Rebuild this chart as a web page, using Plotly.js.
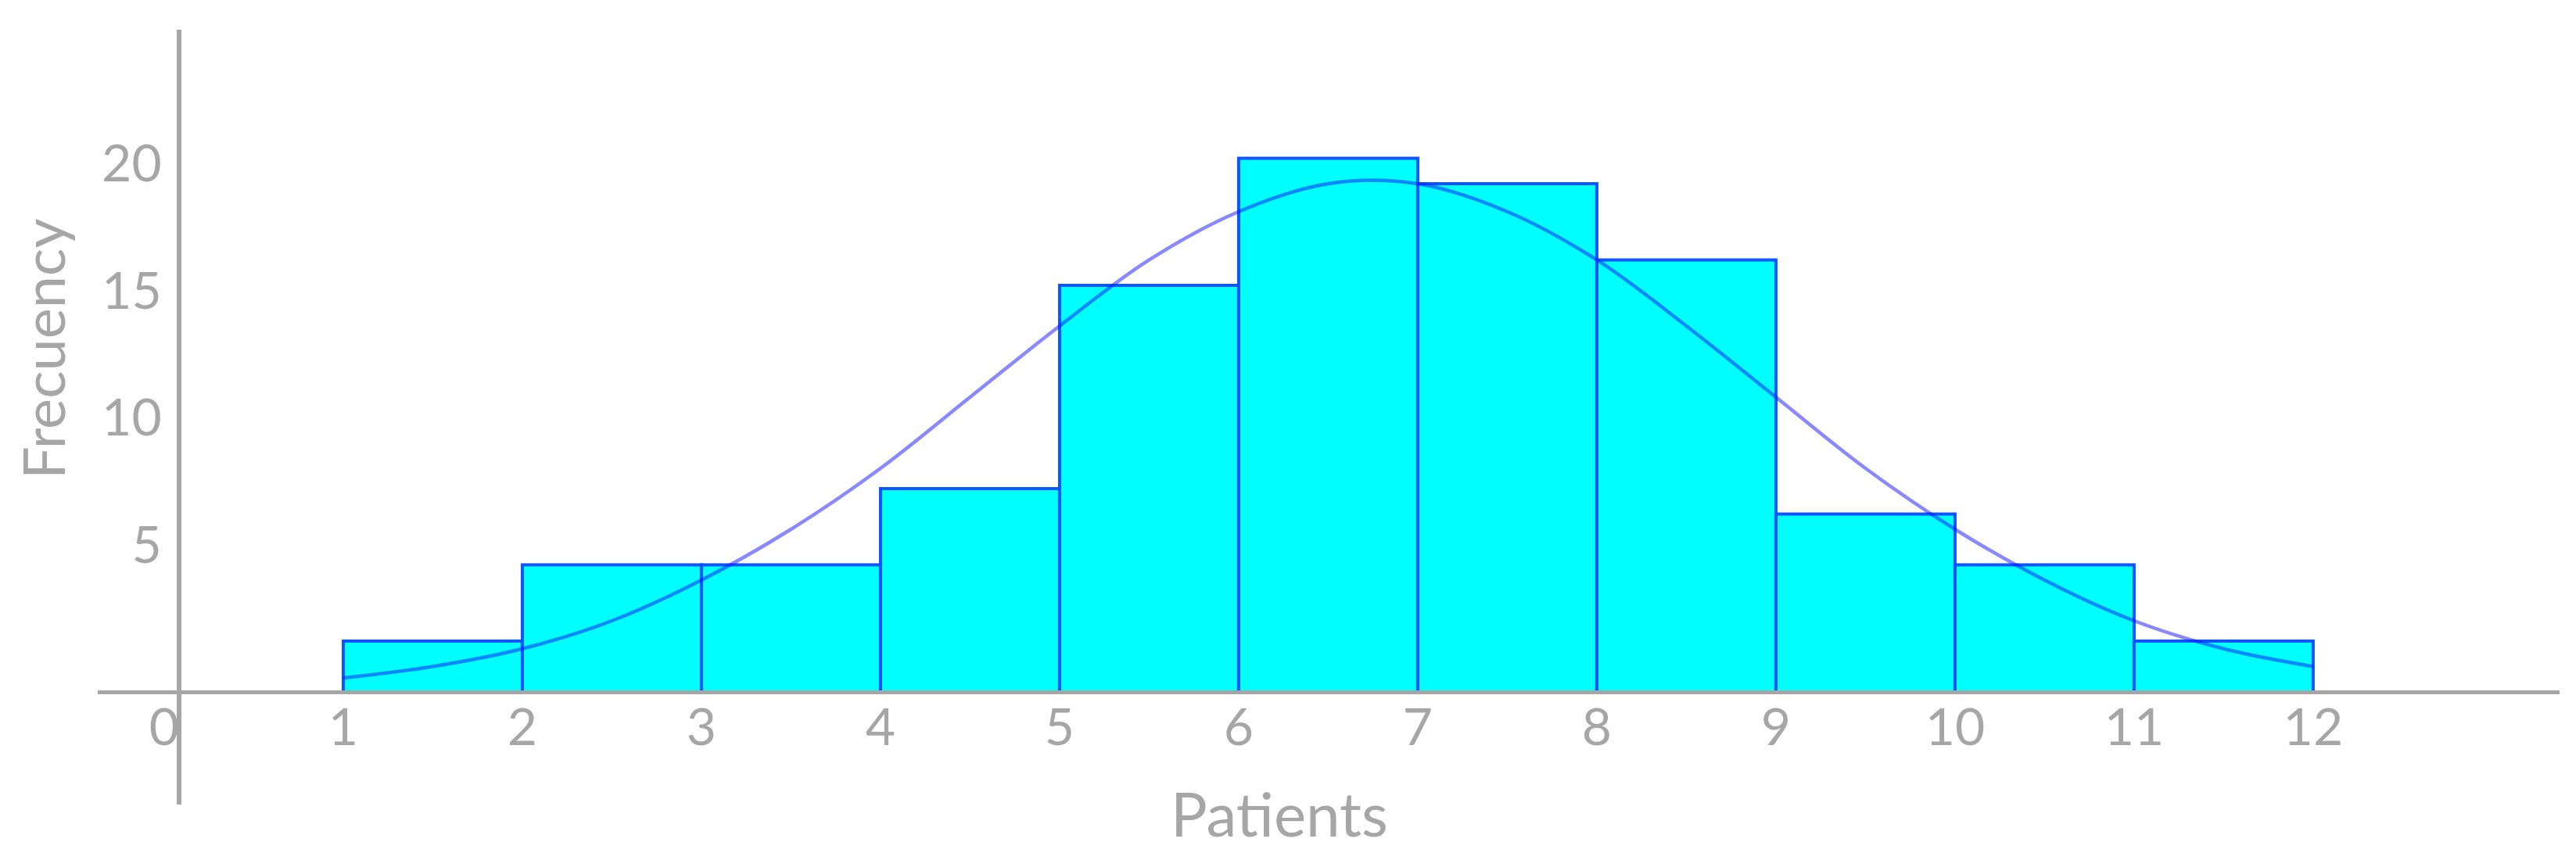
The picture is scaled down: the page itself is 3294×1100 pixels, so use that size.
<!DOCTYPE html>
<html>
<head>
<meta charset="utf-8">
<script src="https://cdn.plot.ly/plotly-3.0.1.min.js"></script>
<style>html,body{margin:0;padding:0;background:#fff;}#chart{width:3294px;height:1100px;}</style>
</head>
<body>
<div id="chart"></div>
<script>
// Histogram bins (left edges) and frequencies
const binStarts = [1, 2, 3, 4, 5, 6, 7, 8, 9, 10, 11];
const frequencies = [2, 5, 5, 8, 16, 21, 20, 17, 7, 5, 2];

// Fitted curve
const curveX = [1, 1.5, 2, 2.5, 3, 3.5, 4, 4.5, 5, 5.5, 6, 6.5, 7, 7.5, 8, 8.5, 9, 9.5, 10, 10.5, 11, 11.5, 12];
const curveY = [0.55, 1.0, 1.7, 2.8, 4.4, 6.4, 8.8, 11.6, 14.4, 17.0, 18.9, 20.0, 20.0, 18.9, 17.0, 14.4, 11.6, 8.8, 6.4, 4.4, 2.8, 1.7, 1.0];

// Axis ticks
const xTickVals = [0, 1, 2, 3, 4, 5, 6, 7, 8, 9, 10, 11, 12];
const xTickText = ['0', '1', '2', '3', '4', '5', '6', '7', '8', '9', '10', '11', '12'];
const yTickVals = [5, 10, 15, 20];
const yTickText = ['5', '10', '15', '20'];

const xTitle = 'Patients';
const yTitle = 'Frecuency';

const gray = '#a6a6a6';
const font = 'Lato, "Open Sans", sans-serif';

const traces = [
  {
    type: 'bar',
    x: binStarts,
    y: frequencies,
    width: 1,
    offset: 0,
    marker: {color: '#00ffff', line: {color: '#0a55ff', width: 4}},
    hoverinfo: 'x+y',
    showlegend: false
  },
  {
    type: 'scatter',
    mode: 'lines',
    x: curveX,
    y: curveY,
    line: {color: 'rgba(20,20,255,0.5)', width: 4.5, shape: 'spline', smoothing: 1},
    showlegend: false
  }
];

const layout = {
  width: 3294,
  height: 1100,
  paper_bgcolor: '#ffffff',
  plot_bgcolor: '#ffffff',
  margin: {l: 125, r: 21, t: 38, b: 71},
  bargap: 0,
  showlegend: false,
  font: {family: font, color: gray},
  xaxis: {
    range: [-0.371, 13.376],
    anchor: 'free',
    position: 0.1453,
    showgrid: false,
    zeroline: false,
    showline: true,
    linecolor: gray,
    linewidth: 5,
    ticks: '',
    tickvals: xTickVals,
    ticktext: xTickText,
    tickfont: {family: font, size: 66, color: gray},
    ticklabelstandoff: -14
  },
  yaxis: {
    range: [-4.43, 26.06],
    anchor: 'free',
    position: 0.033,
    showgrid: false,
    zeroline: false,
    showline: true,
    linecolor: gray,
    linewidth: 6,
    ticks: '',
    tickvals: yTickVals,
    ticktext: yTickText,
    tickfont: {family: font, size: 66, color: gray},
    ticklabelstandoff: 6,
    ticklabelshift: -26
  },
  annotations: [
    {
      text: xTitle, xref: 'paper', yref: 'paper',
      x: (1636 - 125) / 3148, y: (1029 - 1040) / 991,
      xanchor: 'center', yanchor: 'middle', showarrow: false,
      font: {family: font, size: 78, color: gray}
    },
    {
      text: yTitle, xref: 'paper', yref: 'paper',
      x: (54 - 125) / 3148, y: (1029 - 446) / 991,
      xanchor: 'center', yanchor: 'middle', showarrow: false, textangle: -90,
      font: {family: font, size: 74, color: gray}
    }
  ]
};

Plotly.newPlot('chart', traces, layout, {displayModeBar: false, staticPlot: true});
</script>
</body>
</html>
